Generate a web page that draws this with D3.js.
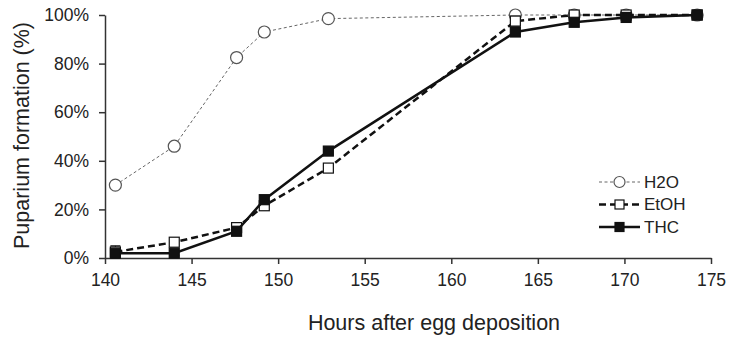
<!DOCTYPE html>
<html>
<head>
<meta charset="utf-8">
<script src="https://cdn.jsdelivr.net/npm/d3@7"></script>
<style>
  body { margin: 0; background: #fff; }
  text { font-family: "Liberation Sans", Arial, sans-serif; fill: #222; }
</style>
</head>
<body>
<div id="chart"></div>
<script>
// Data
const hours = [140.6, 144.0, 147.6, 149.2, 152.9, 163.7, 167.1, 170.1, 174.2];
const h2o   = [30, 46, 82.5, 93, 98.5, 100, 100, 100, 100];
const etoh  = [2.5, 6.5, 12.5, 21.5, 37, 97.5, 100, 100, 100];
const thc   = [2, 2, 11, 24, 44, 93, 97, 99, 100];
const h2oErr  = [0, 0, 0, 0, 0, 2, 1.5, 1, 0];
const etohErr = [2.5, 0, 1, 0, 0, 2, 1, 0.5, 0];
const thcErr  = [1, 1, 0, 0, 0, 0, 0, 0, 0];
const xTicks = [140, 145, 150, 155, 160, 165, 170, 175];
const yTicks = [0, 20, 40, 60, 80, 100];

const width = 730, height = 338;
const margin = { top: 15, right: 19, bottom: 80, left: 105 };

const svg = d3.select("#chart").append("svg")
    .attr("width", width)
    .attr("height", height);

const x = d3.scaleLinear().domain([140, 175]).range([margin.left, width - margin.right]);
const y = d3.scaleLinear().domain([0, 100]).range([height - margin.bottom, margin.top]);

// Axes
const xAxis = svg.append("g")
    .attr("transform", `translate(0,${y(0)})`)
    .call(d3.axisBottom(x).tickValues(xTicks).tickSize(6).tickSizeOuter(0).tickPadding(10));
const yAxis = svg.append("g")
    .attr("transform", `translate(${x(140)},0)`)
    .call(d3.axisLeft(y).tickValues(yTicks).tickSize(6).tickSizeOuter(0).tickPadding(10)
      .tickFormat(d => d + "%"));

[xAxis, yAxis].forEach(a => {
  a.select(".domain").attr("stroke", "#333").attr("stroke-width", 1.5);
  a.selectAll(".tick line").attr("stroke", "#333").attr("stroke-width", 1.5);
  a.selectAll(".tick text").attr("font-size", 17.5).attr("fill", "#222")
    .attr("font-family", "'Liberation Sans', Arial, sans-serif");
});

svg.append("text")
    .attr("x", x(159))
    .attr("y", 330)
    .attr("text-anchor", "middle")
    .attr("font-size", 21.5)
  .text("Hours after egg deposition");

svg.append("text")
    .attr("transform", `translate(29,${y(50) - 1}) rotate(-90)`)
    .attr("text-anchor", "middle")
    .attr("font-size", 21.5)
  .text("Puparium formation (%)");

// Series
const series = [
  { name: "H2O", values: h2o, err: h2oErr, stroke: "#666", width: 1, dash: "3,2.5",
    marker: "circle", fill: "#fff", mstroke: "#555" },
  { name: "EtOH", values: etoh, err: etohErr, stroke: "#111", width: 2.5, dash: "7,4",
    marker: "square", fill: "#fff", mstroke: "#111" },
  { name: "THC", values: thc, err: thcErr, stroke: "#111", width: 2.5, dash: null,
    marker: "square", fill: "#111", mstroke: "#111" }
];

const line = d3.line().x(d => x(d[0])).y(d => y(d[1]));

function drawMarker(g, s, cx, cy, size) {
  if (s.marker === "circle") {
    g.append("circle")
        .attr("cx", cx).attr("cy", cy).attr("r", size / 2 + 1)
        .attr("fill", s.fill).attr("stroke", s.mstroke).attr("stroke-width", 1.2);
  } else {
    g.append("rect")
        .attr("x", cx - size / 2).attr("y", cy - size / 2)
        .attr("width", size).attr("height", size)
        .attr("fill", s.fill).attr("stroke", s.mstroke).attr("stroke-width", 1.2);
  }
}

series.forEach(s => {
  const pts = hours.map((h, i) => [h, s.values[i], s.err[i]]);
  const g = svg.append("g");

  // error bars
  pts.filter(d => d[2] > 0).forEach(d => {
    const cx = x(d[0]);
    g.append("line")
        .attr("x1", cx).attr("x2", cx)
        .attr("y1", y(Math.max(0, d[1] - d[2]))).attr("y2", y(Math.min(100.5, d[1] + d[2])))
        .attr("stroke", s.mstroke).attr("stroke-width", 1);
    [d[1] - d[2], d[1] + d[2]].forEach(v => {
      g.append("line")
          .attr("x1", cx - 5).attr("x2", cx + 5)
          .attr("y1", y(Math.max(0, Math.min(100.5, v)))).attr("y2", y(Math.max(0, Math.min(100.5, v))))
          .attr("stroke", s.mstroke).attr("stroke-width", 1.2);
    });
  });

  g.append("path")
      .datum(pts)
      .attr("d", line)
      .attr("fill", "none")
      .attr("stroke", s.stroke)
      .attr("stroke-width", s.width)
      .attr("stroke-dasharray", s.dash);

  pts.forEach(d => drawMarker(g, s, x(d[0]), y(d[1]), 10));
});

// Legend
const legend = svg.append("g").attr("transform", "translate(599,182)");
series.forEach((s, i) => {
  const row = legend.append("g").attr("transform", `translate(0,${i * 22.5})`);
  row.append("line")
      .attr("x1", 0).attr("x2", 41).attr("y1", 0).attr("y2", 0)
      .attr("stroke", s.stroke).attr("stroke-width", s.width)
      .attr("stroke-dasharray", s.dash);
  drawMarker(row, s, 20.5, 0, 9);
  row.append("text")
      .attr("x", 45).attr("y", 0).attr("dy", "0.35em")
      .attr("font-size", 17)
    .text(s.name);
});
</script>
</body>
</html>
